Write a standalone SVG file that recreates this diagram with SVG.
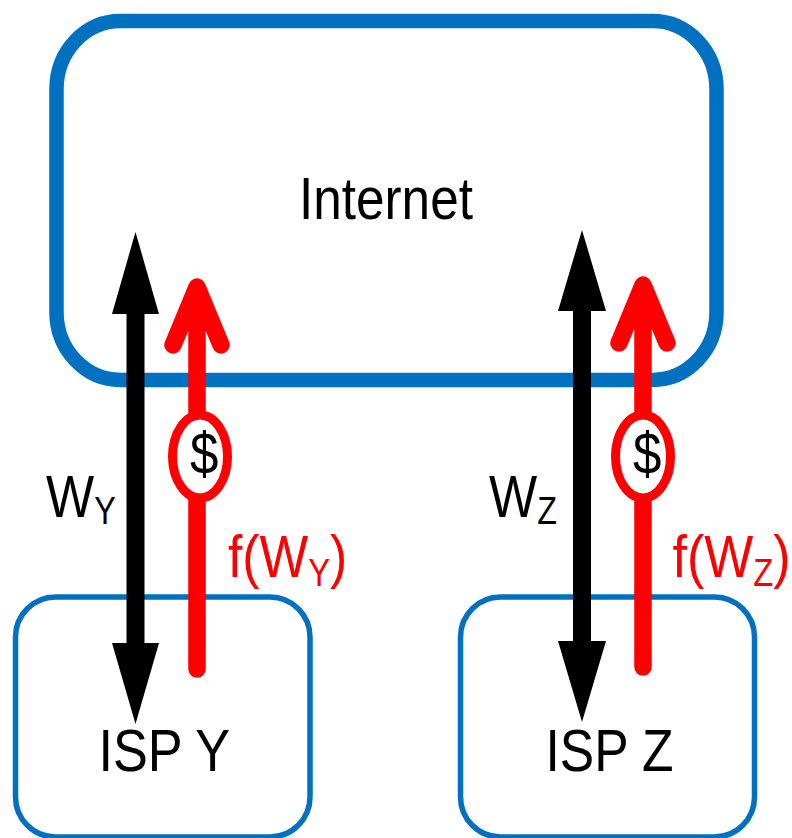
<svg xmlns="http://www.w3.org/2000/svg" width="792" height="838" viewBox="0 0 792 838">
<style>
text{font-family:"Liberation Sans",Arial,sans-serif;fill:#000;font-size:60px}
.sub{font-size:38px}
.red{fill:#f00}
.isp{fill:#fff;stroke:#0070c0;stroke-width:5.5}
.blk{stroke:#000;stroke-width:18;fill:none}
.rd{stroke:#f00;stroke-width:17.5;fill:none;stroke-linecap:round;stroke-linejoin:round}
.coin{fill:#fff;stroke:#f00;stroke-width:9}
</style>
<rect width="792" height="838" fill="#fff"/>
<g id="internet"><rect x="56.500" y="21" width="660" height="359" rx="64" ry="68" fill="none" stroke="#0070c0" stroke-width="14.500"/><text transform="translate(299 218.500) scale(.855 1)">Internet</text></g>
<g id="isp-y"><rect class="isp" x="15.500" y="597" width="294.500" height="240" rx="40"/><text transform="translate(98.500 771) scale(.87 1)">ISP Y</text></g>
<g id="isp-z"><rect class="isp" x="460.500" y="597" width="294" height="240" rx="40"/><text transform="translate(545.500 771) scale(.86 1)">ISP Z</text></g>
<g id="connectors">
<path class="blk" d="M135.500 300V650"/><polygon points="135.500,232 159,314 112,314"/><polygon points="135.500,724 159,643 112,643"/>
<path class="blk" d="M582 300V650"/><polygon points="582,230 606,311 558,311"/><polygon points="582,722 606,641 558,641"/>
<path class="rd" d="M197 669V295M173 345L197 287L221 345"/>
<path class="rd" d="M643 667V295M619 343L643 285L667 343"/>
</g>
<g id="dollar-y"><ellipse class="coin" cx="200" cy="456.500" rx="27.500" ry="41.500"/><text transform="translate(190 474) scale(.85 1)">$</text></g>
<g id="dollar-z"><ellipse class="coin" cx="643" cy="456.500" rx="27.500" ry="41.500"/><text transform="translate(633 474) scale(.85 1)">$</text></g>
<g id="label-wy"><text transform="translate(46 517) scale(.85 1)">W<tspan class="sub" dy="7">Y</tspan></text></g>
<g id="label-wz"><text transform="translate(489 517) scale(.85 1)">W<tspan class="sub" dy="7">Z</tspan></text></g>
<g id="label-fy"><text class="red" transform="translate(228 577) scale(.86 1)">f(W<tspan class="sub" dy="9">Y</tspan><tspan dy="-9">)</tspan></text></g>
<g id="label-fz"><text class="red" transform="translate(672.500 577) scale(.865 1)">f(W<tspan class="sub" dy="9">Z</tspan><tspan dy="-9">)</tspan></text></g>
</svg>
